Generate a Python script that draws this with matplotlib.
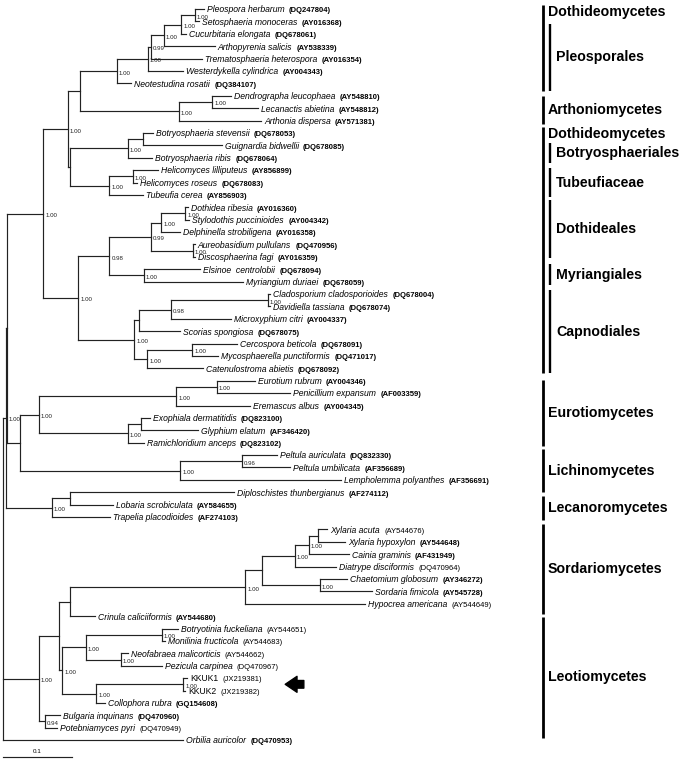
import matplotlib
matplotlib.use("Agg")
import matplotlib.pyplot as plt

plt.rcParams["font.family"] = ["Liberation Sans", "DejaVu Sans"]

# leaves, top to bottom
taxa = [
    "Pleospora herbarum", "Setosphaeria monoceras", "Cucurbitaria elongata",
    "Arthopyrenia salicis", "Trematosphaeria heterospora", "Westerdykella cylindrica",
    "Neotestudina rosatii",
    "Dendrographa leucophaea", "Lecanactis abietina", "Arthonia dispersa",
    "Botryosphaeria stevensii", "Guignardia bidwellii", "Botryosphaeria ribis",
    "Helicomyces lilliputeus", "Helicomyces roseus", "Tubeufia cerea",
    "Dothidea ribesia", "Stylodothis puccinioides", "Delphinella strobiligena",
    "Aureobasidium pullulans", "Discosphaerina fagi", "Elsinoe  centrolobii",
    "Myriangium duriaei",
    "Cladosporium cladosporioides", "Davidiella tassiana", "Microxyphium citri",
    "Scorias spongiosa", "Cercospora beticola", "Mycosphaerella punctiformis",
    "Catenulostroma abietis",
    "Eurotium rubrum", "Penicillium expansum", "Eremascus albus",
    "Exophiala dermatitidis", "Glyphium elatum", "Ramichloridium anceps",
    "Peltula auriculata", "Peltula umbilicata", "Lempholemma polyanthes",
    "Diploschistes thunbergianus", "Lobaria scrobiculata", "Trapelia placodioides",
    "Xylaria acuta", "Xylaria hypoxylon", "Cainia graminis", "Diatrype disciformis",
    "Chaetomium globosum", "Sordaria fimicola", "Hypocrea americana",
    "Crinula caliciiformis", "Botryotinia fuckeliana", "Monilinia fructicola",
    "Neofabraea malicorticis", "Pezicula carpinea", "KKUK1", "KKUK2",
    "Collophora rubra", "Bulgaria inquinans", "Potebniamyces pyri",
    "Orbilia auricolor",
]

accessions = [
    "DQ247804", "AY016368", "DQ678061", "AY538339", "AY016354", "AY004343", "DQ384107",
    "AY548810", "AY548812", "AY571381",
    "DQ678053", "DQ678085", "DQ678064", "AY856899", "DQ678083", "AY856903",
    "AY016360", "AY004342", "AY016358", "AY016359", "AY016359", "DQ678094", "DQ678059",
    "DQ678004", "DQ678074", "AY004337", "DQ678075", "DQ678091", "DQ471017", "DQ678092",
    "AY004346", "AF003359", "AY004345", "DQ823100", "AF346420", "DQ823102",
    "DQ832330", "AF356689", "AF356691", "AF274112", "AY584655", "AF274103",
    "AY544676", "AY544648", "AF431949", "DQ470964", "AY346272", "AY545728", "AY544649",
    "AY544680", "AY544651", "AY544683", "AY544662", "DQ470967", "JX219381", "JX219382",
    "GQ154608", "DQ470960", "DQ470949", "DQ470953",
]
accessions[19] = "DQ470956"

# distance of each leaf from the root (substitutions per site)
tip_depth = [
    0.291, 0.284, 0.265, 0.307, 0.288, 0.261, 0.186,
    0.330, 0.370, 0.374,
    0.217, 0.317, 0.216, 0.225, 0.194, 0.203,
    0.268, 0.270, 0.257, 0.278, 0.278, 0.286, 0.348,
    0.387, 0.387, 0.330, 0.257, 0.339, 0.312, 0.290,
    0.365, 0.416, 0.358, 0.213, 0.283, 0.204,
    0.397, 0.416, 0.490, 0.335, 0.159, 0.155,
    0.470, 0.496, 0.501, 0.483, 0.499, 0.535, 0.525,
    0.133, 0.254, 0.235, 0.181, 0.230, 0.267, 0.264, 0.148, 0.083, 0.078, 0.261,
]

# internal nodes, children before parents
node_ids = [
    "pleo1", "pleo2", "pleo3", "pleo4", "pleo5", "pleos",
    "arth1", "arth", "E",
    "bot1", "bot", "tub1", "tub", "G", "F",
    "dot1", "dot2", "dot3", "dot", "myr", "dm",
    "cap1", "cap2", "cap3", "cap4", "cap5", "cap", "H", "I",
    "eur1", "eur2", "eur3", "eur4", "eur", "lic1", "lic", "K",
    "lec1", "lec", "J", "M",
    "sor1", "sor2", "sor3", "sor4", "sor5", "sor", "sc",
    "leo1", "leo2", "leo3", "kk", "leo4", "leo5", "leo6", "bp", "leo",
    "root",
]
node_kids = [
    (0, 1), ("pleo1", 2), ("pleo2", 3), ("pleo3", 4), ("pleo4", 5), ("pleo5", 6),
    (7, 8), ("arth1", 9), ("pleos", "arth"),
    (10, 11), ("bot1", 12), (13, 14), ("tub1", 15), ("bot", "tub"), ("E", "G"),
    (16, 17), ("dot1", 18), (19, 20), ("dot2", "dot3"), (21, 22), ("dot", "myr"),
    (23, 24), ("cap1", 25), ("cap2", 26), (27, 28), ("cap4", 29), ("cap3", "cap5"),
    ("dm", "cap"), ("F", "H"),
    (30, 31), ("eur1", 32), (33, 34), ("eur3", 35), ("eur2", "eur4"), (36, 37),
    ("lic1", 38), ("eur", "lic"),
    (39, 40), ("lec1", 41), ("I", "K"), ("J", "lec"),
    (42, 43), ("sor1", 44), ("sor2", 45), (46, 47), ("sor3", "sor4"), ("sor5", 48),
    ("sor", 49),
    (50, 51), (52, 53), ("leo1", "leo2"), (54, 55), ("kk", 56), ("leo3", "leo4"),
    ("sc", "leo5"), (57, 58), ("leo6", "bp"),
    ("M", "leo", 59),
]
node_depth = [
    0.278, 0.258, 0.233, 0.214, 0.210, 0.165,
    0.303, 0.255, 0.112,
    0.203, 0.181, 0.188, 0.154, 0.097, 0.094,
    0.264, 0.229, 0.275, 0.214, 0.204, 0.154,
    0.384, 0.243, 0.197, 0.274, 0.209, 0.190, 0.109, 0.058,
    0.310, 0.251, 0.200, 0.181, 0.052, 0.346, 0.257, 0.025,
    0.097, 0.071, 0.0065, 0.005,
    0.457, 0.443, 0.423, 0.459, 0.375, 0.351, 0.097,
    0.230, 0.171, 0.120, 0.261, 0.135, 0.086, 0.081, 0.061, 0.052,
    0.0,
]
node_support = [
    "1.00", "1.00", "1.00", "0.99", "1.00", "1.00",
    "1.00", "1.00", "",
    "", "1.00", "1.00", "1.00", "", "1.00",
    "1.00", "1.00", "1.00", "0.99", "1.00", "0.98",
    "1.00", "0.98", "", "1.00", "1.00", "1.00", "1.00", "1.00",
    "1.00", "1.00", "", "1.00", "1.00", "0.96", "1.00", "",
    "", "1.00", "", "1.00",
    "", "1.00", "1.00", "1.00", "", "1.00", "",
    "1.00", "1.00", "1.00", "1.00", "1.00", "1.00", "", "0.94", "1.00",
    "",
]

isolates = ["KKUK1", "KKUK2"]
plain_acc = ["AY544676", "DQ470964", "AY544649", "AY544651", "AY544683",
             "AY544662", "DQ470967", "DQ470949", "JX219381", "JX219382"]

# clade bars, in leaf rows
class_names = ["Dothideomycetes", "Arthoniomycetes", "Dothideomycetes", "Eurotiomycetes",
               "Lichinomycetes", "Lecanoromycetes", "Sordariomycetes", "Leotiomycetes"]
class_rows = [(-0.3, 6.6), (7.0, 9.3), (9.5, 29.4), (29.9, 35.3),
              (35.5, 39.0), (39.3, 41.2), (41.6, 48.8), (49.1, 58.8)]
order_names = ["Pleosporales", "Botryosphaeriales", "Tubeufiaceae",
               "Dothideales", "Myriangiales", "Capnodiales"]
order_rows = [(1.2, 6.6), (10.8, 12.4), (12.8, 15.2), (15.4, 20.1), (20.6, 22.3), (22.7, 29.4)]

scale_len = 0.1

PX = 690.0  # pixels per tree unit
fig = plt.figure(figsize=(6.83, 7.62), dpi=100)
ax = fig.add_axes([0, 0, 1, 1])
ax.set_xlim(-3 / PX, 680 / PX)
ax.set_ylim(60.77, -0.73)
ax.axis("off")

LINE = dict(color="#222222", lw=0.85, solid_capstyle="projecting")

# branches
ypos = {i: float(i) for i in range(len(taxa))}
xpos = {i: d for i, d in enumerate(tip_depth)}
for nid, kids, d, sup in zip(node_ids, node_kids, node_depth, node_support):
    ys = [ypos[k] for k in kids]
    ax.plot([d, d], [min(ys), max(ys)], **LINE)
    for k in kids:
        ax.plot([d, xpos[k]], [ypos[k], ypos[k]], **LINE)
    ypos[nid] = (min(ys) + max(ys)) / 2
    xpos[nid] = d
    if sup:
        ax.annotate(sup, (d, ypos[nid]), xytext=(1.5, -1.4), textcoords="offset points",
                    fontsize=4.4, va="center", color="#222222")

# leaf labels
labels = []
for i, (name, d) in enumerate(zip(taxa, tip_depth)):
    style = "normal" if name in isolates else "italic"
    t = ax.annotate(name, (d, i), xytext=(2.2, -2.4), textcoords="offset points",
                    fontsize=6.2, style=style, va="baseline")
    labels.append(t)

fig.canvas.draw()
r = fig.canvas.get_renderer()
for i, (t, acc, d) in enumerate(zip(labels, accessions, tip_depth)):
    w = t.get_window_extent(r).width * 72 / fig.dpi
    weight = "normal" if acc in plain_acc else "bold"
    ax.annotate(f"({acc})", (d, i), xytext=(2.2 + w + 3.0, -2.4), textcoords="offset points",
                fontsize=5.5, fontweight=weight, va="baseline")

# clade bars
cls_x, ord_x = 540 / PX, 547 / PX
for name, (a, b) in zip(class_names, class_rows):
    ax.plot([cls_x, cls_x], [a, b], color="black", lw=2.0, solid_capstyle="butt")
    has_orders = any(a <= oa and ob <= b + 0.01 for oa, ob in order_rows)
    y = a + 0.55 if has_orders else (a + b) / 2
    ax.text(cls_x + 5 / PX, y, name, fontsize=10.2, fontweight="bold", va="center")
for name, (a, b) in zip(order_names, order_rows):
    ax.plot([ord_x, ord_x], [a, b], color="black", lw=1.7, solid_capstyle="butt")
    ax.text(ord_x + 6 / PX, (a + b) / 2, name, fontsize=10.2, fontweight="bold", va="center")

# arrow at the new isolates
ax.annotate("", xy=(0.409, ypos["kk"]), xytext=(0.436, ypos["kk"]),
            arrowprops=dict(arrowstyle="simple,head_length=0.85,head_width=1.15,tail_width=0.55",
                            color="black", shrinkA=0, shrinkB=0, mutation_scale=10))

# scale bar
sy = len(taxa) + 0.35
ax.plot([0, scale_len], [sy, sy], **LINE)
ax.text(scale_len / 2, sy - 0.4, "0.1", fontsize=4.5, ha="center", va="center")

fig.savefig("out.png", dpi=100)
